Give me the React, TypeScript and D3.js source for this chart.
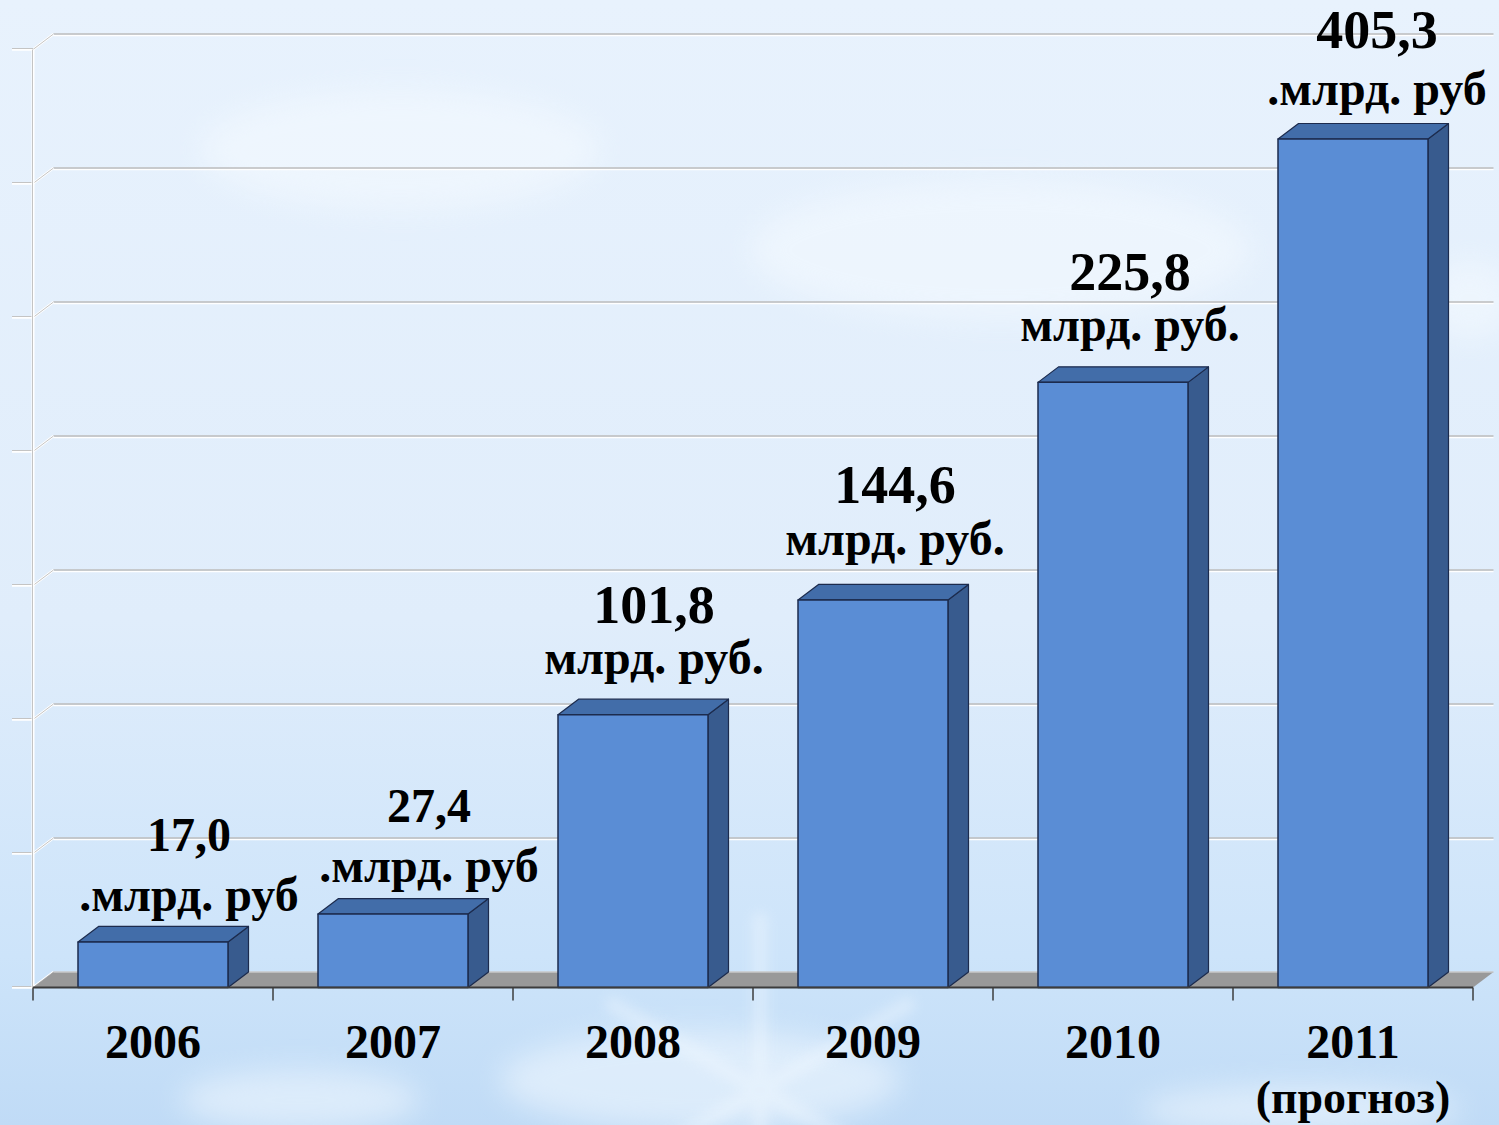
import React from "react";
import * as d3 from "d3";

// ---- data ----
const years = ["2006", "2007", "2008", "2009", "2010", "2011"];
// bar heights as drawn against the axis (the 2011 bar is drawn shorter than its label)
const barValues = [17.0, 27.4, 101.8, 144.6, 225.8, 316.6];
const valueLabels = ["17,0", "27,4", "101,8", "144,6", "225,8", "405,3"];
const unitLabels = [".млрд. руб", ".млрд. руб", "млрд. руб.", "млрд. руб.", "млрд. руб.", ".млрд. руб"];
const categorySubLabels = ["", "", "", "", "", "(прогноз)"];
const yTicks = [0, 50, 100, 150, 200, 250, 300, 350];

// ---- layout ----
const W = 1499;
const H = 1125;
const DX = 20.5;
const DY = 15.5;
const labelShiftX = [36, 36, 21, 22, 17, 24];
const labelLift = [15, 17, 25, 29, 26, 19];
const labelGap = [60, 60, 51, 52, 51, 57];
const valueFontSize = [48, 48, 54, 54, 54, 54];

const FONT = "'Liberation Serif', 'Times New Roman', serif";

export default function App() {
  const x = d3
    .scaleBand<string>()
    .domain(years)
    .range([33, 1473])
    .paddingInner(0.375)
    .paddingOuter(0.1875);
  const y = d3.scaleLinear().domain([0, 350]).range([987.5, 49.5]);
  const step = x.step();
  const x0 = 33;
  const x1 = 1473;
  const base = y(0);

  const snow = [
    { cx: 1470, cy: 300, rx: 45, ry: 40 },
    { cx: 700, cy: 1080, rx: 200, ry: 50 },
    { cx: 300, cy: 1100, rx: 120, ry: 30 },
    { cx: 1300, cy: 1110, rx: 160, ry: 25 },
    { cx: 400, cy: 150, rx: 200, ry: 60 },
    { cx: 1000, cy: 250, rx: 250, ry: 70 },
  ];

  return (
    <svg
      width={W}
      height={H}
      style={{ position: "absolute", left: 0, top: 0, display: "block" }}
    >
      <defs>
        <linearGradient id="bg" x1="0" y1="0" x2="0" y2="1">
          <stop offset="0" stopColor="#e8f2fd" />
          <stop offset="0.55" stopColor="#e0edfb" />
          <stop offset="0.85" stopColor="#cde4fa" />
          <stop offset="1" stopColor="#c0dbf6" />
        </linearGradient>
        <filter id="blur" x="-50%" y="-50%" width="200%" height="200%">
          <feGaussianBlur stdDeviation="14" />
        </filter>
        <filter id="blur2" x="-50%" y="-50%" width="200%" height="200%">
          <feGaussianBlur stdDeviation="6" />
        </filter>
      </defs>
      <rect x={0} y={0} width={W} height={H} fill="url(#bg)" />
      <g filter="url(#blur)" opacity={0.5}>
        {snow.map((s, i) => (
          <ellipse key={i} cx={s.cx} cy={s.cy} rx={s.rx} ry={s.ry} fill="#f6fbff" />
        ))}
      </g>
      {/* faint snowflake near bottom centre */}
      <g filter="url(#blur2)" opacity={0.35} stroke="#f4faff" strokeWidth={16} strokeLinecap="round">
        {d3.range(6).map((k) => {
          const a = (k * Math.PI) / 3 + Math.PI / 6;
          const cx = 760;
          const cy = 1090;
          return (
            <line
              key={k}
              x1={cx}
              y1={cy}
              x2={cx + Math.cos(a) * 170}
              y2={cy + Math.sin(a) * 170}
            />
          );
        })}
      </g>

      {/* back wall gridlines and left axis ticks */}
      {yTicks.map((t) => {
        const yy = y(t);
        return (
          <g key={t}>
            {t > 0 && (
              <>
                <line x1={x0 + DX} x2={x1 + DX} y1={yy - DY + 1.5} y2={yy - DY + 1.5} stroke="#ffffff" strokeWidth={1.5} />
                <line x1={x0 + DX} x2={x1 + DX} y1={yy - DY} y2={yy - DY} stroke="#bcbcbc" strokeWidth={1.5} />
              </>
            )}
            <line x1={x0} y1={yy} x2={x0 + DX} y2={yy - DY} stroke="#ffffff" strokeWidth={2.5} />
            <line x1={x0} y1={yy} x2={x0 + DX} y2={yy - DY} stroke="#c4c4c4" strokeWidth={1} />
            <line x1={12} x2={x0} y1={yy} y2={yy} stroke="#ffffff" strokeWidth={2.5} />
            <line x1={12} x2={x0} y1={yy - 1} y2={yy - 1} stroke="#c4c4c4" strokeWidth={1} />
          </g>
        );
      })}
      <line x1={x0} x2={x0} y1={y(350)} y2={base} stroke="#ffffff" strokeWidth={3} />
      <line x1={x0 - 0.5} x2={x0 - 0.5} y1={y(350)} y2={base} stroke="#c4c4c4" strokeWidth={1} />

      {/* floor */}
      <polygon
        points={`${x0},${base} ${x1},${base} ${x1 + DX},${base - DY} ${x0 + DX},${base - DY}`}
        fill="#999999"
      />
      <line x1={x0 + DX} x2={x1 + DX} y1={base - DY} y2={base - DY} stroke="#c9c9c9" strokeWidth={1.5} />

      {/* bars */}
      {years.map((yr, i) => {
        const bx = x(yr)!;
        const bw = x.bandwidth();
        const top = y(barValues[i]);
        const stroke = "#1c2b4d";
        return (
          <g key={yr} strokeLinejoin="round">
            <polygon
              points={`${bx + bw},${top} ${bx + bw + DX},${top - DY} ${bx + bw + DX},${base - DY} ${bx + bw},${base}`}
              fill="#385b8e"
              stroke={stroke}
              strokeWidth={1.2}
            />
            <polygon
              points={`${bx},${top} ${bx + DX},${top - DY} ${bx + bw + DX},${top - DY} ${bx + bw},${top}`}
              fill="#426da9"
              stroke={stroke}
              strokeWidth={1.2}
            />
            <rect x={bx} y={top} width={bw} height={base - top} fill="#5a8dd5" stroke={stroke} strokeWidth={1.5} />
          </g>
        );
      })}

      {/* front axis line and ticks */}
      <line x1={x0} x2={x1} y1={base} y2={base} stroke="#3c3c3c" strokeWidth={2} />
      {d3.range(years.length + 1).map((k) => (
        <line
          key={k}
          x1={x0 + k * step}
          x2={x0 + k * step}
          y1={base}
          y2={base + 13}
          stroke="#3c3c3c"
          strokeWidth={1.5}
        />
      ))}

      {/* value labels */}
      {years.map((yr, i) => {
        const cx = x(yr)! + x.bandwidth() / 2 + labelShiftX[i];
        const unitY = y(barValues[i]) - DY - labelLift[i];
        return (
          <g key={yr} fontFamily={FONT} fontWeight="bold" textAnchor="middle" fill="#000">
            <text x={cx} y={unitY - labelGap[i]} fontSize={valueFontSize[i]}>{valueLabels[i]}</text>
            <text x={cx} y={unitY} fontSize={48}>{unitLabels[i]}</text>
          </g>
        );
      })}

      {/* category labels */}
      {years.map((yr, i) => {
        const cx = x(yr)! + x.bandwidth() / 2;
        return (
          <g key={yr} fontFamily={FONT} fontWeight="bold" textAnchor="middle" fill="#000">
            <text x={cx} y={1058} fontSize={48}>{yr}</text>
            {categorySubLabels[i] && <text x={cx} y={1113} fontSize={46}>{categorySubLabels[i]}</text>}
          </g>
        );
      })}
    </svg>
  );
}
